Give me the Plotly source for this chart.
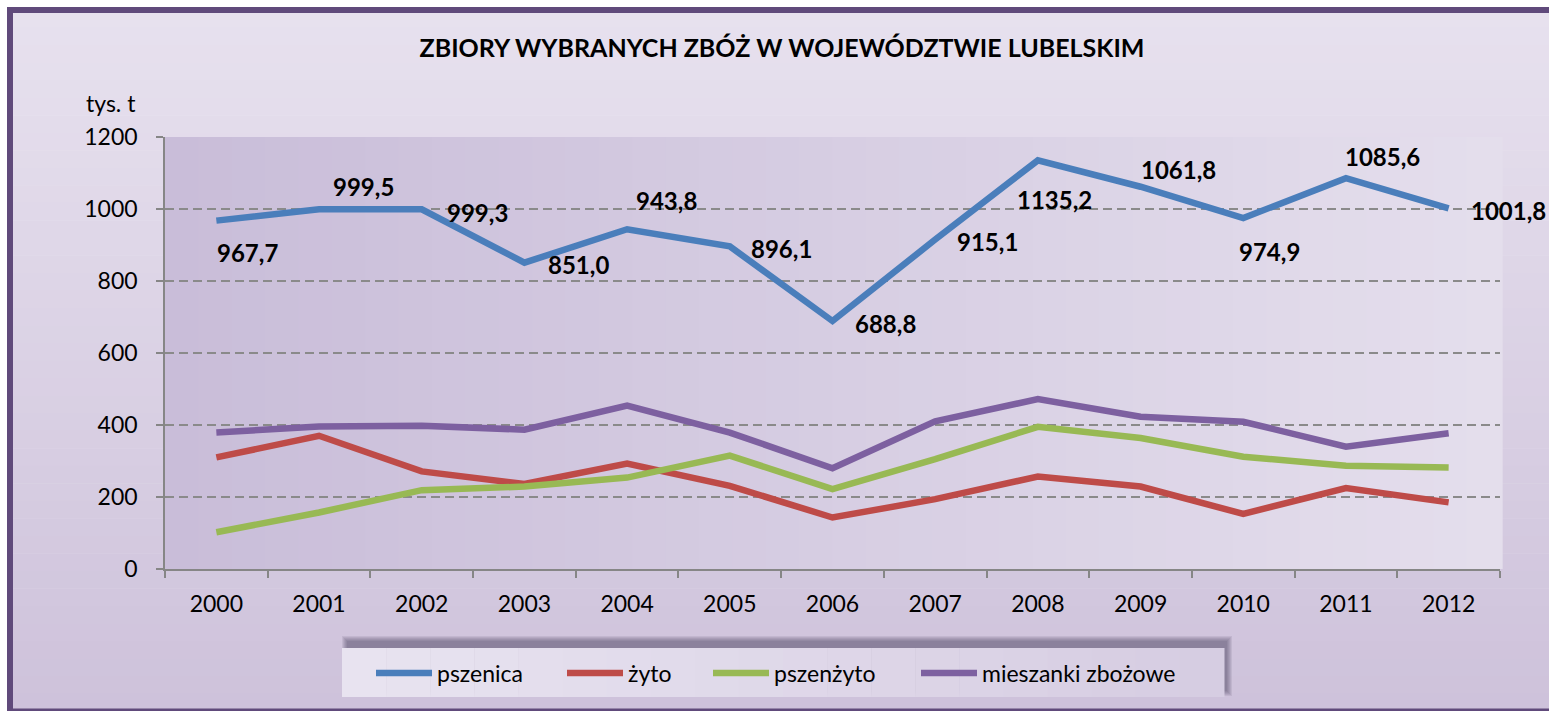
import plotly.graph_objects as go

# ---------------- data ----------------
years = ["2000", "2001", "2002", "2003", "2004", "2005", "2006",
         "2007", "2008", "2009", "2010", "2011", "2012"]
pszenica = [967.7, 999.5, 999.3, 851.0, 943.8, 896.1, 688.8,
            915.1, 1135.2, 1061.8, 974.9, 1085.6, 1001.8]
zyto = [310, 370, 271, 236, 293, 231, 143, 194, 257, 229, 153, 225, 185]
pszenzyto = [102, 157, 219, 229, 254, 315, 222, 305, 395, 364, 312, 287, 282]
mieszanki = [379, 396, 398, 387, 454, 379, 280, 410, 472, 423, 409, 340, 377]
series_names = ["pszenica", "żyto", "pszenżyto", "mieszanki zbożowe"]
y_ticks = [0, 200, 400, 600, 800, 1000, 1200]
title_text = "ZBIORY WYBRANYCH ZBÓŻ W WOJEWÓDZTWIE LUBELSKIM"
y_unit = "tys. t"

# ---------------- style ----------------
colors = ["#4A7EBB", "#BE4B48", "#98B954", "#7D60A0"]
W, H = 1549, 711
L, R, T, B = 165, 49, 137, 142
PW, PH = W - L - R, H - T - B
FONT = "Lato, 'Open Sans', sans-serif"
# label offsets (px) for wheat data labels: (xshift, yshift)
label_offsets = [(31, -32), (44, 23), (56, -3), (54, -2), (39, 29), (52, -2),
                 (53, -2), (52, -2), (17, -39), (38, 17), (26, -33), (37, 22),
                 (60, -2)]
legend_starts = [377, 568, 714, 922]   # pixel x where each legend key starts


def px(xp):
    return (xp - L) / PW


def py(yp):
    return (H - B - yp) / PH


def blend(c1, c2, t):
    a = [int(c1[i:i + 2], 16) for i in (1, 3, 5)]
    b = [int(c2[i:i + 2], 16) for i in (1, 3, 5)]
    return "#" + "".join(f"{round(a[k] + (b[k] - a[k]) * t):02X}" for k in range(3))


fig = go.Figure()
legend_ids = ["legend", "legend2", "legend3", "legend4"]
for name, vals, col, lid in zip(series_names, [pszenica, zyto, pszenzyto, mieszanki],
                                colors, legend_ids):
    fig.add_trace(go.Scatter(x=years, y=vals, name=name, mode="lines",
                             line=dict(color=col, width=6.5), legend=lid,
                             hoverinfo="x+y+name"))

shapes = []
# paper background gradient inside frame
n = 40
top, bot = 10, 711
for i in range(n):
    y0 = top + (bot - top) * i / n
    y1 = top + (bot - top) * (i + 1) / n + 0.5
    shapes.append(dict(type="rect", xref="paper", yref="paper",
                       x0=px(10), x1=px(1560), y0=py(y1), y1=py(y0),
                       fillcolor=blend("#E7E1EE", "#CEC2DB", i / (n - 1)),
                       line=dict(width=0), layer="below"))
# plot area gradient
m = 40
for i in range(m):
    shapes.append(dict(type="rect", xref="x domain", yref="y domain",
                       x0=i / m, x1=(i + 1) / m + 0.002, y0=0, y1=1,
                       fillcolor=blend("#C9BDD9", "#E4DEEC", i / (m - 1)),
                       line=dict(width=0), layer="below"))
# legend box soft shadow
for s in range(6):
    g = 6 - s
    shapes.append(dict(type="rect", xref="paper", yref="paper",
                       x0=px(346 - g + 2), x1=px(1228 + g - 2),
                       y0=py(692 + g - 2), y1=py(642 - g),
                       fillcolor="rgba(70,60,85,0.10)", line=dict(width=0), layer="below"))
k = 20
for i in range(k):
    xa = 342 + (1224 - 342) * i / k
    xb = 342 + (1224 - 342) * (i + 1) / k + 0.5
    shapes.append(dict(type="rect", xref="paper", yref="paper",
                       x0=px(xa), x1=px(xb), y0=py(697), y1=py(648),
                       fillcolor=blend("#E8E3F0", "#D6CDE2", i / (k - 1)),
                       line=dict(width=0), layer="below"))
# outer frame
shapes.append(dict(type="rect", xref="paper", yref="paper",
                   x0=px(10), x1=px(1562), y0=py(711.5), y1=py(10),
                   line=dict(color="#604A7B", width=6), fillcolor="rgba(0,0,0,0)",
                   layer="above"))

annotations = []
for i, v in enumerate(pszenica):
    dx, dy = label_offsets[i]
    annotations.append(dict(x=i, y=v, xref="x", yref="y",
                            text=f"{v:.1f}".replace(".", ","), showarrow=False,
                            xshift=dx, yshift=dy,
                            font=dict(family=FONT, size=24, color="#000000", weight="bold")))
annotations.append(dict(x=px(138), y=py(103), xref="paper", yref="paper",
                        text=y_unit, showarrow=False, xanchor="right", yanchor="middle",
                        font=dict(family=FONT, size=23, color="#000000")))

axis_col = "#868686"
layout = dict(
    width=W, height=H,
    margin=dict(l=L, r=R, t=T, b=B, pad=0),
    paper_bgcolor="#FFFFFF",
    plot_bgcolor="rgba(0,0,0,0)",
    font=dict(family=FONT, size=23, color="#000000"),
    title=dict(text=title_text, x=782 / W, y=1 - 48 / H, xanchor="center",
               yanchor="middle", xref="container", yref="container",
               font=dict(family=FONT, size=25, color="#000000", weight="bold")),
    xaxis=dict(type="category", range=[-0.5, 12.5], tickson="boundaries",
               ticks="outside", ticklen=7, tickcolor=axis_col, tickwidth=1.5,
               showline=True, linecolor=axis_col, linewidth=1.5,
               showgrid=False, zeroline=False, ticklabelstandoff=14,
               tickfont=dict(family=FONT, size=23, color="#000000")),
    yaxis=dict(range=[0, 1200], tickvals=y_ticks, ticks="outside", ticklen=7,
               tickcolor=axis_col, tickwidth=1.5, showline=True, linecolor=axis_col,
               linewidth=1.5, showgrid=True, gridcolor="#8A8A8A", gridwidth=1.5,
               griddash="9px,5px", zeroline=False, ticklabelstandoff=14,
               tickfont=dict(family=FONT, size=23, color="#000000")),
    shapes=shapes,
    annotations=annotations,
    showlegend=True,
)
for lid, xs in zip(legend_ids, legend_starts):
    layout[lid] = dict(orientation="h", x=px(xs - 6), y=py(673), xanchor="left",
                       yanchor="middle", bgcolor="rgba(0,0,0,0)", borderwidth=0,
                       font=dict(family=FONT, size=23, color="#000000"),
                       itemwidth=56)
fig.update_layout(**layout)

fig.write_html("out.html", config={"responsive": False, "displayModeBar": False},
               post_script="document.body.style.margin='0';")
